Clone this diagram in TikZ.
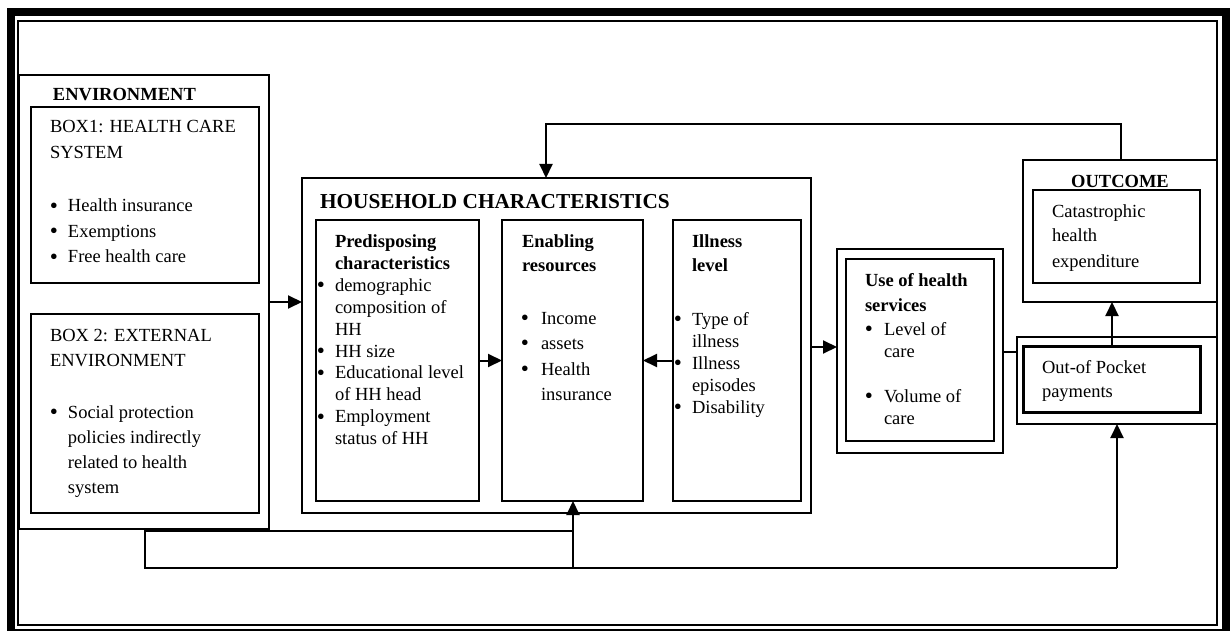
\documentclass[tikz,border=0pt]{standalone}
\usepackage{fontspec}
\setmainfont{Liberation Serif}
\usetikzlibrary{arrows.meta}
\newcommand\fz[1]{\fontsize{9.25pt}{#1}\selectfont}
\newcommand\tb[1]{\begin{tabular}[t]{@{}l@{}}#1\end{tabular}}
\newcommand\bl[1]{\llap{\raisebox{-0.07em}{\scalebox{1.25}{\textbullet}}\hspace{#1}}}
\begin{document}
\begin{tikzpicture}[x=0.5pt,y=-0.5pt,
  bx/.style={draw, inner sep=0pt, outer sep=0pt, line width=#1},
  txt/.style={inner sep=0pt, outer sep=0pt, anchor=base west},
  arr/.style={-{Triangle[length=7pt,width=6.5pt]}, line width=1pt},
  ln/.style={line width=1pt}]
\useasboundingbox (0,0) rectangle (1232,631);
% frame
\draw[line width=4pt] (10.5,12) rectangle (1226,633);
\draw[line width=0.6pt] (18,21) rectangle (1217,625);
% boxes
\node[bx=0.6pt, minimum width=125pt, minimum height=227pt] (env) at (144,302) {};
\node[bx=1pt, minimum width=114pt, minimum height=88pt] (box1) at (145,195) {};
\node[bx=1pt, minimum width=114pt, minimum height=99.5pt] (box2) at (145,413.5) {};
\node[bx=1.1pt, minimum width=254.5pt, minimum height=167.5pt] (hh) at (556.5,345.5) {};
\node[bx=1.3pt, minimum width=81.5pt, minimum height=140.5pt] (pre) at (397.5,360.5) {};
\node[bx=1.3pt, minimum width=70.5pt, minimum height=140.5pt] (ena) at (572.5,360.5) {};
\node[bx=1.3pt, minimum width=64pt, minimum height=140.5pt] (ill) at (737,360.5) {};
\node[bx=0.8pt, minimum width=83pt, minimum height=102pt] (useo) at (920,351) {};
\node[bx=1.3pt, minimum width=74pt, minimum height=91pt] (usei) at (920,350) {};
\node[bx=1pt, minimum width=97pt, minimum height=71pt] (outo) at (1120,231) {};
\node[bx=1.2pt, minimum width=83.5pt, minimum height=46.5pt] (outi) at (1116.5,236.5) {};
\node[bx=1pt, minimum width=100pt, minimum height=43.5pt] (oopo) at (1117,380.5) {};
\node[bx=1.5pt, minimum width=88.5pt, minimum height=33pt] (oopi) at (1111.5,379) {};
% texts
\node[txt, font=\fz{13pt}\bfseries] (envt) at (53,101) {ENVIRONMENT};
\node[txt, font=\fz{13pt}] (box1t) at (50,133) {\tb{BOX1: HEALTH CARE\\SYSTEM}};
\node[txt, font=\fz{12.75pt}] (box1l) at (68,212) {\tb{\bl{5pt}Health insurance\\\bl{5pt}Exemptions\\\bl{5pt}Free health care}};
\node[txt, font=\fz{12.5pt}] (box2t) at (50,341) {\tb{BOX 2: EXTERNAL\\ENVIRONMENT}};
\node[txt, font=\fz{12.5pt}] (box2l) at (68,418) {\tb{\bl{5pt}Social protection\\policies indirectly\\related to health\\system}};
\node[txt, font=\fontsize{10.65pt}{13pt}\selectfont\bfseries] (hht) at (320,208) {HOUSEHOLD CHARACTERISTICS};
\node[txt, font=\fz{11pt}] (pret) at (335,247) {\tb{\textbf{Predisposing}\\\textbf{characteristics}\\\bl{5pt}demographic\\composition of\\HH\\\bl{5pt}HH size\\\bl{5pt}Educational level\\of HH head\\\bl{5pt}Employment\\status of HH}};
\node[txt, font=\fz{12.5pt}\bfseries] (enat) at (522,247) {\tb{Enabling\\resources}};
\node[txt, font=\fz{12.8pt}] (enal) at (541,324) {\tb{\bl{6pt}Income\\\bl{6pt}assets\\\bl{6pt}Health\\insurance}};
\node[txt, font=\fz{12.5pt}\bfseries] (illt) at (692,247) {\tb{Illness\\level}};
\node[txt, font=\fz{11pt}] (illl) at (692,325) {\tb{\bl{5pt}Type of\\illness\\\bl{5pt}Illness\\episodes\\\bl{5pt}Disability}};
\node[txt, font=\fz{12.5pt}\bfseries] (uset) at (865,286) {\tb{Use of health\\services}};
\node[txt, font=\fz{11pt}] (usel) at (884,335) {\tb{\bl{5.5pt}Level of\\care\\[11.5pt]\bl{5.5pt}Volume of\\care}};
\node[inner sep=0pt, anchor=base, font=\fz{13pt}\bfseries] (outt) at (1120,187) {OUTCOME};
\node[txt, font=\fz{12.5pt}] (catt) at (1052,217) {\tb{Catastrophic\\health\\expenditure}};
\node[txt, font=\fz{12pt}] (oopt) at (1042,373) {\tb{Out-of Pocket\\payments}};
% connector coordinates
\coordinate (hy) at (0,347);
\coordinate (uy) at (0,352);
\coordinate (ox) at (1112,0);
\coordinate (fb1) at (1121,124);
\coordinate (fb2) at (546,124);
\coordinate (bl1) at (145,568);
\coordinate (bl2) at (145,531);
\coordinate (bm1) at (573,531);
\coordinate (bm2) at (573,568);
\coordinate (br) at (1117,568);
% connectors
\draw[arr] (env.east) -- (hh.west |- env.east);
\draw[arr] (pre.east) -- (ena.west);
\draw[arr] (ill.west) -- (ena.east);
\draw[arr] (hh.east |- hy) -- (useo.west |- hy);
\draw[ln] (useo.east |- uy) -- (oopo.west |- uy);
\draw[arr] (oopi.north -| ox) -- (outo.south -| ox);
\draw[arr] (outo.north -| fb1) -- (fb1) -- (fb2) -- (hh.north -| fb2);
\draw[ln] (bm1) -- (bl2) -- (bl1) -- (br);
\draw[arr] (br) -- (oopo.south -| br);
\draw[arr] (bm2) -- (ena.south -| bm2);
\end{tikzpicture}
\end{document}
